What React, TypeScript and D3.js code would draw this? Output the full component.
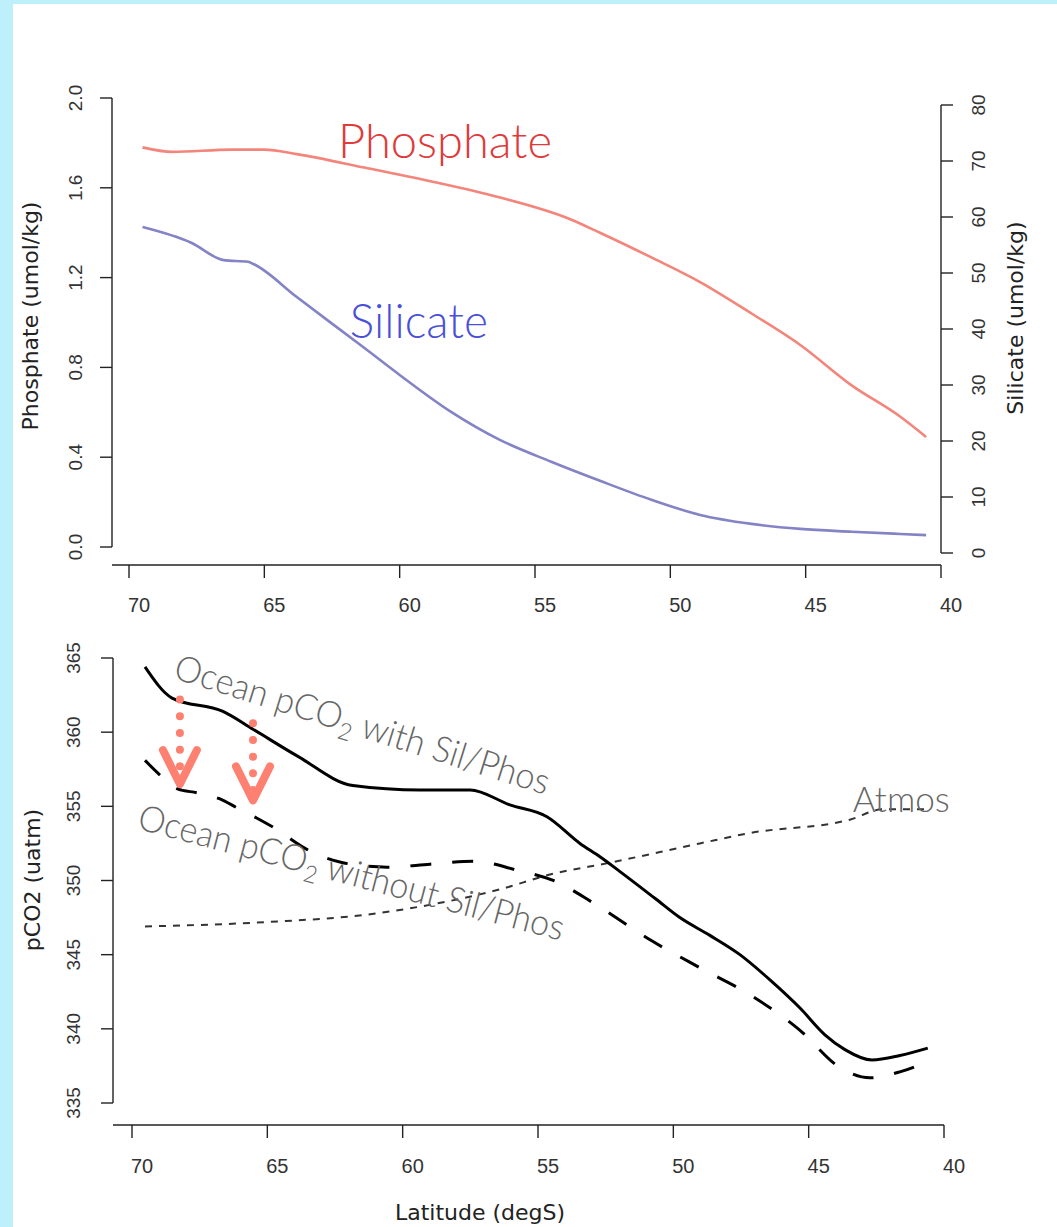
import React, { useRef, useEffect } from 'react';
import * as d3 from 'd3';

// top panel: nutrients vs latitude
const phosLat = [69.5, 68.4, 66.2, 65.0, 63.8, 61.3, 58.9, 56.4, 53.7, 52.6, 50.7, 48.9, 47.0, 45.2, 43.3, 41.5, 40.55];
const phosVal = [1.78, 1.76, 1.77, 1.77, 1.75, 1.69, 1.63, 1.56, 1.46, 1.40, 1.29, 1.18, 1.04, 0.90, 0.72, 0.58, 0.49];
const silLat = [69.5, 67.7, 66.5, 65.6, 65.4, 63.8, 61.3, 60.0, 58.1, 56.3, 54.4, 52.6, 50.7, 48.9, 47.0, 45.2, 43.3, 41.5, 40.55];
const silVal = [58.2, 55.4, 52.3, 52.0, 51.6, 45.7, 36.6, 31.8, 25.2, 20.2, 16.3, 12.9, 9.5, 6.8, 5.2, 4.3, 3.8, 3.4, 3.2];

// bottom panel: pCO2 vs latitude
const withLat = [69.52, 68.52, 66.64, 65.53, 63.9, 61.84, 59.36, 57.51, 56.04, 54.67, 53.45, 52.71, 51.97, 50.68, 49.76, 48.65, 47.54, 46.43, 45.32, 44.4, 43.66, 42.66, 41.63, 40.6];
const withVal = [364.4, 362.3, 361.4, 360.2, 358.4, 356.4, 356.1, 356.1, 355.1, 354.3, 352.5, 351.6, 350.6, 348.8, 347.5, 346.3, 345.0, 343.3, 341.4, 339.6, 338.6, 337.9, 338.2, 338.7];
const withoutLat = [69.52, 68.96, 68.34, 67.56, 66.75, 66.12, 65.38, 64.79, 63.54, 62.21, 60.58, 58.99, 57.4, 55.78, 54.3, 52.97, 50.86, 49.0, 47.17, 45.32, 43.85, 42.74, 41.63, 40.6];
const withoutVal = [358.1, 357.1, 356.2, 355.9, 355.5, 354.9, 354.2, 353.6, 352.1, 351.2, 350.9, 351.1, 351.3, 350.7, 349.9, 348.5, 346.0, 344.1, 342.3, 339.9, 337.4, 336.7, 337.1, 337.8];
const atmosLat = [69.52, 65.01, 61.32, 58.88, 56.41, 54.56, 52.34, 49.02, 47.17, 43.48, 42.26, 40.63];
const atmosVal = [346.9, 347.2, 347.7, 348.4, 349.4, 350.4, 351.2, 352.5, 353.2, 354.1, 354.8, 354.8];

// ticks
const latTicks = [70, 65, 60, 55, 50, 45, 40];
const phosTicks = [0, 0.4, 0.8, 1.2, 1.6, 2.0];
const silTicks = [0, 10, 20, 30, 40, 50, 60, 70, 80];
const co2Ticks = [335, 340, 345, 350, 355, 360, 365];

// arrows showing the drop (lat, from, to)
const arrowLat = [68.23, 65.53];
const arrowFrom = [362.2, 360.6];
const arrowTo = [356.5, 355.4];

const annoFont = 'Lato, "Open Sans", sans-serif';
const axisFont = '"Liberation Sans", Arial, sans-serif';
const titleFont = '"DejaVu Sans", sans-serif';

export default function App() {
    const svgRef = useRef(null);
    const W = 1057, H = 1227;

    useEffect(() => {
        const svg = d3.select(svgRef.current);
        svg.selectAll('*').remove();

        svg.append('rect').attr('width', W).attr('height', H).attr('fill', '#bdf0fa');
        svg.append('rect').attr('x', 13).attr('y', 4).attr('width', W - 13).attr('height', H - 4).attr('fill', '#fff');

        const xTop = d3.scaleLinear().domain([70, 40]).range([129, 941]);
        const yPhos = d3.scaleLinear().domain([0, 2]).range([547, 98]);
        const ySil = d3.scaleLinear().domain([0, 80]).range([553, 105]);
        const xBot = d3.scaleLinear().domain([70, 40]).range([132, 944]);
        const yCo2 = d3.scaleLinear().domain([335, 365]).range([1103, 658]);

        const axisCol = '#222';

        // ---- axes helper bits ----
        const drawXAxis = (x, y0, xStart, labelY) => {
            const g = svg.append('g');
            g.append('line').attr('x1', xStart).attr('x2', x(40)).attr('y1', y0).attr('y2', y0)
                .attr('stroke', axisCol).attr('stroke-width', 1.4);
            g.selectAll('line.tk').data(latTicks).enter().append('line')
                .attr('x1', d => x(d)).attr('x2', d => x(d)).attr('y1', y0).attr('y2', y0 + 13)
                .attr('stroke', axisCol).attr('stroke-width', 1.4);
            g.selectAll('text').data(latTicks).enter().append('text')
                .attr('x', d => x(d) + 10).attr('y', labelY)
                .attr('text-anchor', 'middle').attr('font-family', axisFont).attr('font-size', 20)
                .attr('fill', '#333').text(d => d);
        };
        const drawYAxis = (y, ticks, xAxis, dir, labelX, fmt) => {
            const g = svg.append('g');
            g.append('line').attr('x1', xAxis).attr('x2', xAxis)
                .attr('y1', y(ticks[0])).attr('y2', y(ticks[ticks.length - 1]))
                .attr('stroke', axisCol).attr('stroke-width', 1.4);
            g.selectAll('line.tk').data(ticks).enter().append('line')
                .attr('x1', xAxis).attr('x2', xAxis + dir * 12).attr('y1', d => y(d)).attr('y2', d => y(d))
                .attr('stroke', axisCol).attr('stroke-width', 1.4);
            g.selectAll('text').data(ticks).enter().append('text')
                .attr('transform', d => `translate(${labelX},${y(d)}) rotate(-90)`)
                .attr('text-anchor', 'middle').attr('font-family', axisFont).attr('font-size', 19)
                .attr('fill', '#333').text(fmt);
        };
        const yTitle = (txt, x, y) => {
            svg.append('text').attr('transform', `translate(${x},${y}) rotate(-90)`)
                .attr('text-anchor', 'middle').attr('font-family', titleFont).attr('font-size', 22)
                .attr('fill', '#222').text(txt);
        };

        // ---- top panel ----
        drawXAxis(xTop, 565, 112, 612);
        drawYAxis(yPhos, phosTicks, 112, -1, 82, d => d.toFixed(1));
        drawYAxis(ySil, silTicks, 941, 1, 985, d => d);
        yTitle('Phosphate (umol/kg)', 38, 316);
        yTitle('Silicate (umol/kg)', 1023, 318);

        const phosLine = d3.line().x(d => xTop(d[0])).y(d => yPhos(d[1])).curve(d3.curveMonotoneX);
        const silLine = d3.line().x(d => xTop(d[0])).y(d => ySil(d[1])).curve(d3.curveMonotoneX);
        svg.append('path').attr('d', phosLine(d3.zip(phosLat, phosVal)))
            .attr('fill', 'none').attr('stroke', '#f3857b').attr('stroke-width', 2.6);
        svg.append('path').attr('d', silLine(d3.zip(silLat, silVal)))
            .attr('fill', 'none').attr('stroke', '#8383c6').attr('stroke-width', 2.6);

        svg.append('text').attr('x', xTop(62.28)).attr('y', yPhos(1.733))
            .attr('font-family', annoFont).attr('font-weight', 300).attr('font-size', 48)
            .attr('textLength', 214).attr('lengthAdjust', 'spacingAndGlyphs')
            .attr('fill', '#e03a3a').text('Phosphate');
        svg.append('text').attr('x', xTop(61.84)).attr('y', ySil(38.4))
            .attr('font-family', annoFont).attr('font-weight', 300).attr('font-size', 48)
            .attr('textLength', 138).attr('lengthAdjust', 'spacingAndGlyphs')
            .attr('fill', '#4a4fd8').text('Silicate');

        // ---- bottom panel ----
        drawXAxis(xBot, 1125, 113, 1173);
        drawYAxis(yCo2, co2Ticks, 113, -1, 80, d => d);
        yTitle('pCO2 (uatm)', 40, 880);
        svg.append('text').attr('x', 480).attr('y', 1220).attr('text-anchor', 'middle')
            .attr('font-family', titleFont).attr('font-size', 22).attr('fill', '#222')
            .text('Latitude (degS)');

        const co2Line = d3.line().x(d => xBot(d[0])).y(d => yCo2(d[1])).curve(d3.curveMonotoneX);
        svg.append('path').attr('d', co2Line(d3.zip(atmosLat, atmosVal)))
            .attr('fill', 'none').attr('stroke', '#333').attr('stroke-width', 2)
            .attr('stroke-dasharray', '7 7');
        svg.append('path').attr('d', co2Line(d3.zip(withoutLat, withoutVal)))
            .attr('fill', 'none').attr('stroke', '#000').attr('stroke-width', 3)
            .attr('stroke-dasharray', '21 21');
        svg.append('path').attr('d', co2Line(d3.zip(withLat, withVal)))
            .attr('fill', 'none').attr('stroke', '#000').attr('stroke-width', 3);

        // arrows
        const arrowCol = '#fd8070';
        arrowLat.forEach((la, i) => {
            const ax = xBot(la);
            const y1 = yCo2(arrowFrom[i]);
            const y2 = yCo2(arrowTo[i]);
            svg.append('line').attr('x1', ax).attr('x2', ax).attr('y1', y1).attr('y2', y2)
                .attr('stroke', arrowCol).attr('stroke-width', 8).attr('stroke-linecap', 'round')
                .attr('stroke-dasharray', '0 16.7');
            svg.append('path').attr('d', `M${ax - 17},${y2 - 34}L${ax},${y2}L${ax + 17},${y2 - 34}`)
                .attr('fill', 'none').attr('stroke', arrowCol).attr('stroke-width', 8)
                .attr('stroke-linecap', 'round').attr('stroke-linejoin', 'round');
        });

        // rotated labels
        const slantLabel = (lat, val, angle, len, pre, post) => {
            const t = svg.append('text')
                .attr('transform', `translate(${xBot(lat)},${yCo2(val)}) rotate(${angle})`)
                .attr('font-family', annoFont).attr('font-weight', 300).attr('font-size', 36)
                .attr('fill', '#666').attr('textLength', len).attr('lengthAdjust', 'spacingAndGlyphs');
            t.append('tspan').text(pre);
            t.append('tspan').attr('font-size', 24).attr('dy', 8).text('2');
            t.append('tspan').attr('dy', -8).text(post);
        };
        slantLabel(68.52, 363.65, 17.4, 391, 'Ocean pCO', ' with Sil/Phos');
        slantLabel(69.85, 353.5, 14.8, 439, 'Ocean pCO', ' without Sil/Phos');

        svg.append('text').attr('x', xBot(43.37)).attr('y', yCo2(354.6))
            .attr('font-family', annoFont).attr('font-weight', 300).attr('font-size', 36)
            .attr('textLength', 97).attr('lengthAdjust', 'spacingAndGlyphs')
            .attr('fill', '#666').text('Atmos');
    }, []);

    return <svg ref={svgRef} width={W} height={H} style={{ position: 'absolute', left: 0, top: 0, display: 'block' }}></svg>;
}
